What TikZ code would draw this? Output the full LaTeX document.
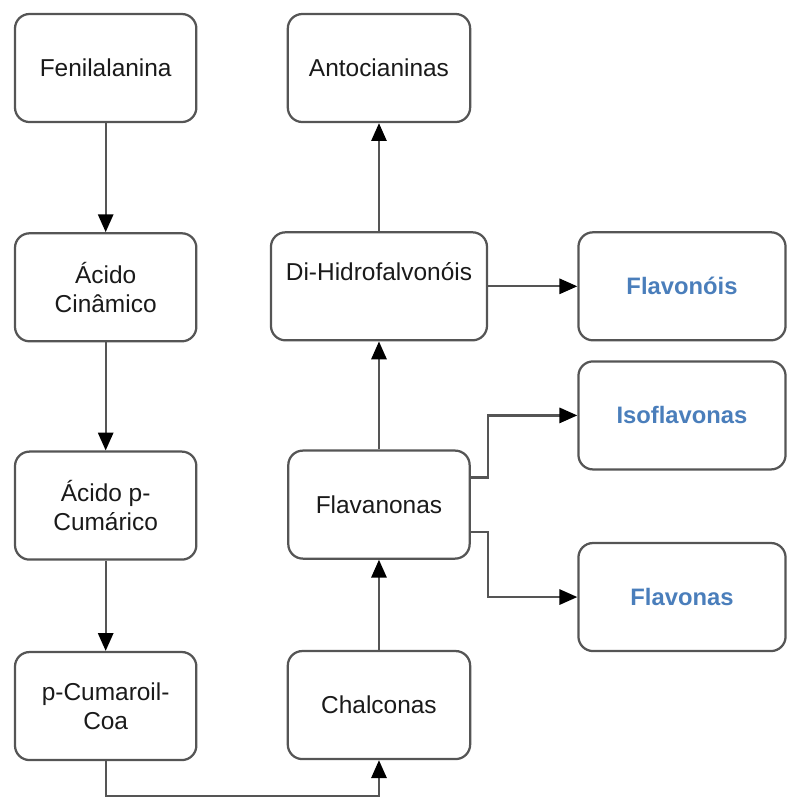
\documentclass[tikz,border=0pt]{standalone}
\usepackage{fontspec}
\setmainfont{Liberation Sans}
\usepackage{tikz}
\usetikzlibrary{arrows.meta, positioning, calc}
\definecolor{pathline}{HTML}{555555}
\definecolor{pathtext}{HTML}{1A1A1A}
\definecolor{pathproduct}{HTML}{4A7EBB}

\begin{document}
\begin{tikzpicture}[
        pathnode/.style={
            draw=pathline,
            line width=1.7pt,
            rounded corners=11pt,
            minimum width=137.25pt,
            minimum height=81.75pt,
            align=center,
            text=pathtext,
            font=\fontsize{18.5}{21.75}\selectfont
        },
        productnode/.style={
            pathnode,
            minimum width=156.75pt,
            text=pathproduct,
            font=\fontsize{18}{21.75}\selectfont\bfseries
        },
        pathlink/.style={
            -{Triangle[length=13.5pt, width=11.5pt, color=black]},
            line width=1.7pt,
            pathline
        }
    ]
        \node[pathnode] (fenil) {Fenilalanina};
        \node[pathnode, below=82.5pt of fenil] (cinamico) {Ácido\\Cinâmico};
        \node[pathnode, below=81.75pt of cinamico] (cumarico) {Ácido p-\\Cumárico};
        \node[pathnode, below=68.25pt of cumarico] (cumaroil) {p-Cumaroil-\\Coa};

        \node[pathnode, minimum width=138pt, right=67.5pt of fenil] (antocian) {Antocianinas};
        \node[pathnode, minimum width=163.5pt, below=81.75pt of antocian] (dihidro)
            {Di-Hidrofalvonóis\\~};
        \node[pathnode, below=81.75pt of dihidro] (flavanon) {Flavanonas};
        \node[pathnode, minimum width=138pt, below=68.25pt of flavanon] (chalcon) {Chalconas};

        \node[productnode, right=67.5pt of dihidro] (flavonol) {Flavonóis};
        \node[productnode, below=14.25pt of flavonol] (isoflav) {Isoflavonas};
        \node[productnode, below=54pt of isoflav] (flavona) {Flavonas};

        \draw[pathlink] (fenil) -- (cinamico);
        \draw[pathlink] (cinamico) -- (cumarico);
        \draw[pathlink] (cumarico) -- (cumaroil);
        \draw[pathlink]
            (cumaroil.south)
            -- ++(0,-26.25pt)
            -| (chalcon.south);
        \draw[pathlink] (chalcon) -- (flavanon);
        \draw[pathlink] (flavanon) -- (dihidro);
        \draw[pathlink] (dihidro) -- (antocian);
        \draw[pathlink] (dihidro) -- (flavonol);
        \draw[pathlink]
            ([yshift=20.6pt]flavanon.east)
            -- ++(13pt,0)
            |- (isoflav.west);
        \draw[pathlink]
            ([yshift=-20.6pt]flavanon.east)
            -- ++(13pt,0)
            |- (flavona.west);

        \useasboundingbox ($(fenil.north west)+(-10.5pt,9.75pt)$)
            rectangle ++(591.75pt,-597.75pt);
    \end{tikzpicture}
\end{document}
